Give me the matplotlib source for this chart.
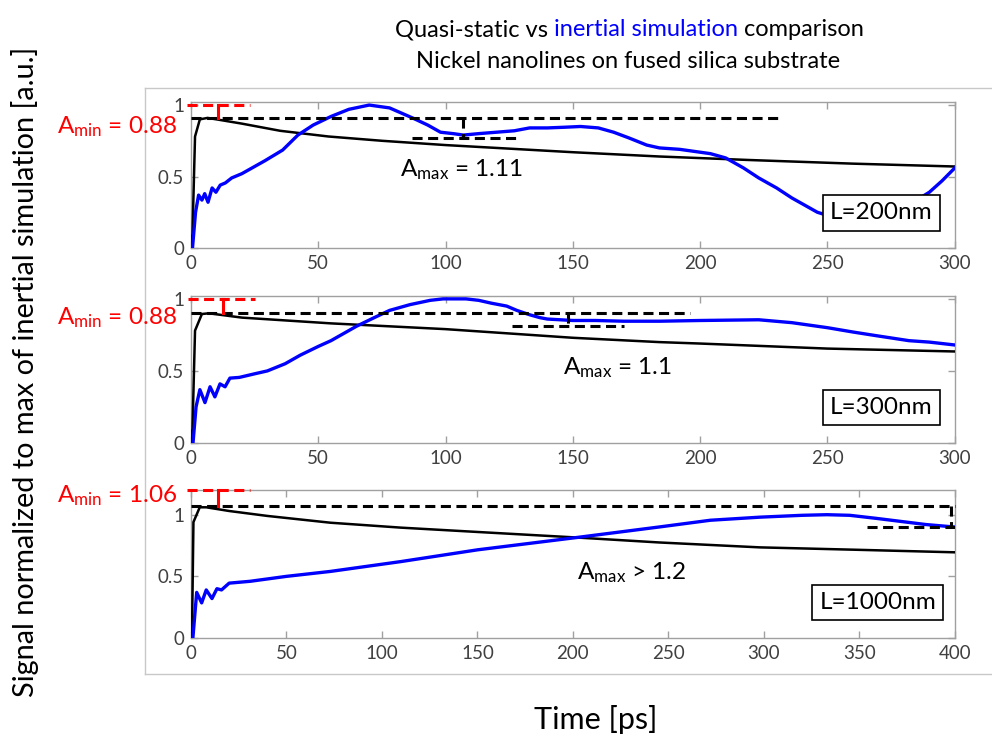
import matplotlib
matplotlib.use("Agg")
import matplotlib.pyplot as plt

plt.rcParams["font.family"] = ["Lato", "DejaVu Sans"]

# ---- L = 200 nm ----
t_200_in = [0.6, 1.8, 3, 4.3, 5.4, 6.7, 8.3, 9.8, 11.5, 13.5, 16, 20, 29, 36, 42, 48, 55, 62, 70, 78,
            87, 93, 98, 103, 107, 113, 120, 127, 133, 140, 147, 153, 160, 166, 172, 179, 184, 192,
            204, 210, 217, 223, 230, 236, 246, 255, 262, 270, 280, 290, 295, 300]
v_200_in = [0, 0.25, 0.37, 0.335, 0.38, 0.32, 0.42, 0.39, 0.44, 0.455, 0.49, 0.52, 0.61, 0.685, 0.79,
            0.86, 0.92, 0.97, 1.0, 0.98, 0.91, 0.86, 0.81, 0.80, 0.79, 0.80, 0.81, 0.82, 0.84, 0.84,
            0.845, 0.85, 0.84, 0.81, 0.77, 0.72, 0.70, 0.69, 0.66, 0.63, 0.56, 0.49, 0.42, 0.35,
            0.25, 0.2, 0.19, 0.22, 0.28, 0.39, 0.47, 0.56]
t_200_qs = [0, 0.6, 1.6, 3.5, 6.5, 10, 20, 35, 54, 75, 100, 125, 150, 184, 220, 260, 300]
v_200_qs = [0, 0.1, 0.78, 0.9, 0.91, 0.9, 0.87, 0.82, 0.78, 0.75, 0.72, 0.695, 0.67, 0.64, 0.615, 0.59, 0.57]

# ---- L = 300 nm ----
t_300_in = [0.8, 2, 3.5, 5.5, 7.5, 9.4, 11.4, 13.4, 15.3, 19, 25, 30, 37, 43, 50, 55, 65, 72, 78, 86,
            94, 99, 104, 108, 113, 118, 124, 128, 133, 137, 140, 145, 150, 159, 170, 184, 200, 223,
            236, 250, 260, 269, 282, 290, 300]
v_300_in = [0, 0.25, 0.37, 0.28, 0.39, 0.32, 0.41, 0.39, 0.45, 0.455, 0.48, 0.50, 0.55, 0.61, 0.67,
            0.71, 0.81, 0.87, 0.92, 0.96, 0.99, 1.0, 1.0, 1.0, 0.99, 0.97, 0.95, 0.92, 0.89, 0.87,
            0.86, 0.855, 0.85, 0.85, 0.845, 0.845, 0.85, 0.855, 0.835, 0.80, 0.77, 0.745, 0.71, 0.70, 0.68]
t_300_qs = [0, 0.6, 1.6, 4.3, 7, 20, 55, 100, 150, 184, 200, 250, 300]
v_300_qs = [0, 0.1, 0.78, 0.895, 0.9, 0.87, 0.83, 0.79, 0.73, 0.70, 0.69, 0.655, 0.635]

# ---- L = 1000 nm ----
t_1000_in = [1, 3, 5.6, 8, 11, 13.6, 16, 20, 31, 50, 73, 110, 150, 202, 245, 272, 298, 320, 333,
             345, 359, 372, 385, 400]
v_1000_in = [0, 0.37, 0.285, 0.39, 0.32, 0.40, 0.39, 0.445, 0.46, 0.50, 0.54, 0.62, 0.715, 0.815,
             0.90, 0.955, 0.98, 0.995, 1.0, 0.995, 0.97, 0.945, 0.92, 0.90]
t_1000_qs = [0, 0.6, 1.3, 4.6, 8, 20, 40, 73, 110, 150, 202, 245, 298, 350, 400]
v_1000_qs = [0, 0.1, 0.94, 1.06, 1.06, 1.03, 0.99, 0.935, 0.895, 0.86, 0.815, 0.775, 0.735, 0.715, 0.695]

lengths = ["L=200nm", "L=300nm", "L=1000nm"]
a_min = ["0.88", "0.88", "1.06"]
a_max = ["= 1.11", "= 1.1", "> 1.2"]
t_max = [300, 300, 400]
y_top = [1.02, 1.02, 1.2]

# dashed guide levels: peak of quasi-static, dip level of inertial, top reference
qs_peak = [0.91, 0.90, 1.07]
in_dip = [0.77, 0.815, 0.90]
ref_top = [1.0, 1.0, 1.2]
# guide x ranges (ps)
long_end = [232, 196, 400]
dip_range = [(87, 129), (126, 170), (354, 400)]
dip_x = [107, 148, 398]
red_range = [(-1.5, 23), (-1, 25), (-2, 31)]
red_x = [10.6, 12.5, 14]
amax_pos = [(82, 0.545), (146, 0.52), (202, 0.53)]

series = [(t_200_in, v_200_in, t_200_qs, v_200_qs),
          (t_300_in, v_300_in, t_300_qs, v_300_qs),
          (t_1000_in, v_1000_in, t_1000_qs, v_1000_qs)]

fig = plt.figure(figsize=(9.92, 7.40), dpi=100)
W, H = 992, 740

positions = [[0.1925, 0.6649, 0.770, 0.197],
             [0.1925, 0.4014, 0.770, 0.1986],
             [0.1925, 0.1378, 0.770, 0.200]]
amin_y = [127, 318, 496]
box_x = [0.904, 0.904, 0.899]

dash = (0, (3.3, 1.8))
for i, ax_pos in enumerate(positions):
    ax = fig.add_axes(ax_pos)
    t_in, v_in, t_qs, v_qs = series[i]

    ax.plot(t_qs, v_qs, color="black", lw=1.8, zorder=3)
    ax.plot(t_in, v_in, color="#0000ff", lw=2.4, zorder=4)

    # dashed guides
    ax.plot([0, long_end[i]], [qs_peak[i]] * 2, color="black", lw=2.2, ls=dash, zorder=5, clip_on=False)
    ax.plot(dip_range[i], [in_dip[i]] * 2, color="black", lw=2.2, ls=dash, zorder=5)
    ax.plot([dip_x[i]] * 2, [qs_peak[i], in_dip[i]], color="black", lw=2.2, ls=dash, zorder=5)
    ax.plot(red_range[i], [ref_top[i]] * 2, color="red", lw=2.2, ls=dash, zorder=5, clip_on=False)
    ax.plot([red_x[i]] * 2, [ref_top[i], qs_peak[i]], color="red", lw=2.2, zorder=5, clip_on=False)

    ax.text(amax_pos[i][0], amax_pos[i][1], r"$\mathregular{A_{max}}$ " + a_max[i],
            fontsize=17.5, ha="left", va="center", color="black", zorder=6)
    ax.text(box_x[i], 0.24, lengths[i], transform=ax.transAxes, fontsize=17.5,
            ha="center", va="center", zorder=7,
            bbox=dict(boxstyle="square,pad=0.3", facecolor="white", edgecolor="black", lw=1.2))

    fig.text(177 / W, 1 - amin_y[i] / H, r"$\mathregular{A_{min}}$ = " + a_min[i],
             color="red", fontsize=17.5, ha="right", va="center")

    ax.set_xlim(0, t_max[i])
    ax.set_ylim(0, y_top[i])
    ax.set_xticks(range(0, t_max[i] + 1, 50))
    ax.set_yticks([0, 0.5, 1])
    ax.set_yticklabels(["0", "0.5", "1"])
    ax.tick_params(direction="in", top=True, right=True, length=5, width=1,
                   color="#a0a0a0", labelcolor="#404040", labelsize=13.5, pad=5)
    for sp in ax.spines.values():
        sp.set_color("#a0a0a0")
        sp.set_linewidth(1)

# gray frame lines of the pasted image
fig.add_artist(plt.Line2D([145 / W, 1], [1 - 88 / H] * 2, color="#c8c8c8", lw=1))
fig.add_artist(plt.Line2D([145 / W, 1], [1 - 674 / H] * 2, color="#c8c8c8", lw=1))
fig.add_artist(plt.Line2D([145 / W] * 2, [1 - 88 / H, 1 - 674 / H], color="#c8c8c8", lw=1))

# title with coloured part
renderer = fig.canvas.get_renderer()
title_size = 17


def line_of_parts(parts, y_px, center_px):
    texts = []
    total = 0
    space = fig.text(0, 0, "a a", fontsize=title_size).get_window_extent(renderer).width
    nospace = fig.text(0, 0, "aa", fontsize=title_size).get_window_extent(renderer).width
    fig.texts[-1].remove()
    fig.texts[-1].remove()
    sp = space - nospace
    for s, c in parts:
        t = fig.text(0, 1 - y_px / H, s, color=c, fontsize=title_size, va="center", ha="left")
        w = t.get_window_extent(renderer).width
        texts.append((t, w))
        total += w
    total += sp * (len(parts) - 1)
    x = center_px - total / 2
    for t, w in texts:
        t.set_x(x / W)
        x += w + sp


line_of_parts([("Quasi-static vs", "black"), ("inertial simulation", "#0000ff"), ("comparison", "black")], 30, 629)
line_of_parts([("Nickel nanolines on fused silica substrate", "black")], 62, 628)

fig.text(596 / W, 1 - 720 / H, "Time [ps]", fontsize=22, ha="center", va="center")
fig.text(25 / W, 1 - 372 / H, "Signal normalized to max of inertial simulation [a.u.]",
         fontsize=20.8, ha="center", va="center", rotation=90)

fig.savefig("out.png", dpi=100)
